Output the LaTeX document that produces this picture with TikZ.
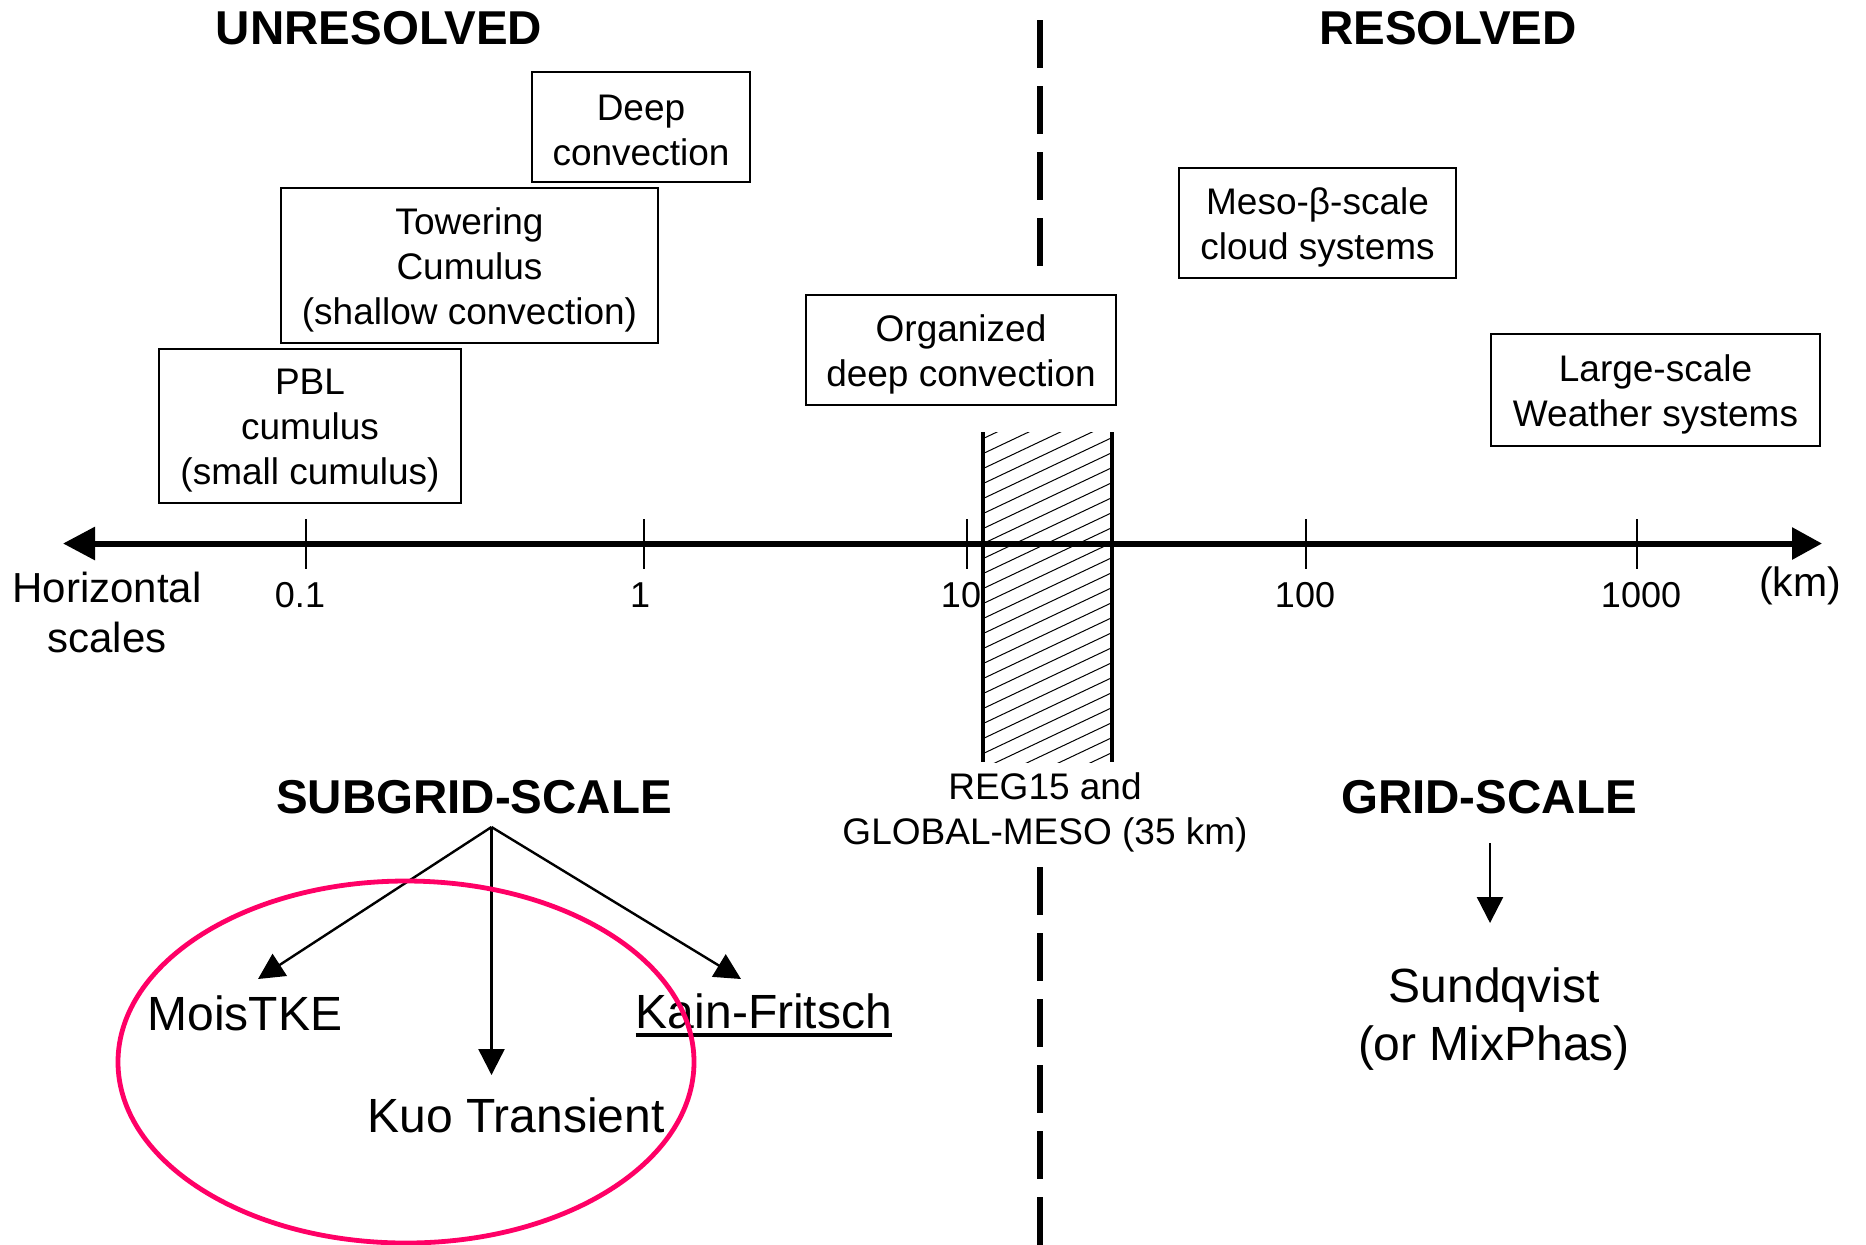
\documentclass[tikz,border=0pt]{standalone}
\usepackage{fontspec}
\setmainfont{Liberation Sans}
\usetikzlibrary{arrows.meta}
\newcommand\myfs[2]{\fontsize{#1}{#2}\selectfont}
\definecolor{ringpink}{RGB}{255,0,102}
\tikzset{
  boxnode/.style={draw, line width=1pt, inner sep=0pt},
  boxtext/.style={inner sep=0pt, align=center, font=\myfs{18.5}{22.5}},
  headtext/.style={inner sep=0pt, font=\bfseries\myfs{23.75}{28}},
  bigtext/.style={inner sep=0pt, align=center, font=\myfs{24}{29}},
  ticktext/.style={inner sep=0pt, font=\myfs{18}{22}},
  tickmark/.style={line width=0.75pt},
  thinarrow/.style={line width=1.2pt, -{Triangle[length=13pt,width=13pt]}},
  divider/.style={line width=3pt, dash pattern=on 24pt off 9pt},
}
\begin{document}
\begin{tikzpicture}[x=0.5pt, y=-0.5pt]
\useasboundingbox (0,0) rectangle (1866,1244);
\fill[white] (0,0) rectangle (1866,1244);

% dashed divider
\coordinate (dvA) at (1040,20);
\coordinate (dvB) at (1040,267);
\coordinate (dvC) at (1040,867);
\coordinate (dvD) at (1040,1250);
\draw[divider] (dvA) -- (dvB);
\draw[divider] (dvC) -- (dvD);

% headers
\node[headtext] (unres) at (379,28.5) {UNRESOLVED};
\node[headtext] (res) at (1448,28.5) {RESOLVED};

% boxes
\node[boxnode, minimum width=109pt, minimum height=55pt] (deep) at (641,126.5) {};
\node[boxtext] (deepT) at (641,130.5) {Deep\\convection};
\node[boxnode, minimum width=188.5pt, minimum height=77.5pt] (tower) at (469.5,265.5) {};
\node[boxtext] (towerT) at (469.5,270) {Towering\\Cumulus\\(shallow convection)};
\node[boxnode, minimum width=151pt, minimum height=77pt] (pbl) at (310,426) {};
\node[boxtext] (pblT) at (310,431) {PBL\\cumulus\\(small cumulus)};
\node[boxnode, minimum width=155pt, minimum height=55pt] (org) at (961,350) {};
\node[boxtext] (orgT) at (961,354) {Organized\\deep convection};
\node[boxnode, minimum width=138.5pt, minimum height=55pt] (meso) at (1317.5,223) {};
\node[boxtext] (mesoT) at (1317.5,227.5) {Meso-β-scale\\cloud systems};
\node[boxnode, minimum width=164.5pt, minimum height=56pt] (large) at (1655.5,390) {};
\node[boxtext] (largeT) at (1655.5,394.5) {Large-scale\\Weather systems};

% hatched band
\begin{scope}
\clip (983,432) rectangle (1112,762);
\foreach \k in {-5,...,26}{
  \draw[line width=0.5pt] (983,453.6+15*\k) -- ++(129,-61);
}
\end{scope}
\coordinate (bLt) at (983,432);
\coordinate (bLb) at (983,762);
\coordinate (bRt) at (1112,432);
\coordinate (bRb) at (1112,762);
\draw[line width=1.75pt] (bLt) -- (bLb);
\draw[line width=1.75pt] (bRt) -- (bRb);

% axis
\coordinate (axL) at (63,543.5);
\coordinate (axR) at (1822,543.5);
\draw[line width=3pt, {Triangle[length=16pt,width=16pt]}-{Triangle[length=15pt,width=15.5pt]}] (axL) -- (axR);
\foreach \tx/\nm in {306/t1, 644/t2, 967/t3, 1306/t4, 1637/t5}{
  \coordinate (\nm a) at (\tx,519);
  \coordinate (\nm b) at (\tx,569);
  \draw[tickmark] (\nm a) -- (\nm b);
}
\node[ticktext] (l01) at (300,595) {0.1};
\node[ticktext] (l1) at (640,595) {1};
\node[ticktext] (l10) at (961,595) {10};
\node[ticktext] (l100) at (1305,595) {100};
\node[ticktext] (l1000) at (1641,595) {1000};
\node[inner sep=0pt, font=\myfs{20.5}{25}] (km) at (1800,586) {(km)};
\node[inner sep=0pt, align=center, font=\myfs{21}{25}] (hs) at (107,612.5) {Horizontal\\scales};

% REG15 label
\node[inner sep=0pt, align=center, font=\myfs{18.5}{22.5}] (reg) at (1045,812) {REG15 and\\GLOBAL-MESO (35 km)};

% lower headers
\node[headtext] (sub) at (474,797) {SUBGRID-SCALE};
\node[headtext] (grid) at (1489,797) {GRID-SCALE};

% scheme names
\node[bigtext] (mois) at (245,1013) {MoisTKE};
\node[bigtext] (kuo) at (516,1115) {Kuo Transient};
\node[bigtext] (kf) at (764,1011) {Kain-Fritsch};
\draw[line width=1.75pt] ([yshift=-3pt]kf.south west) -- ([yshift=-3pt]kf.south east);
\node[bigtext] (sund) at (1494,1019) {Sundqvist\\(or MixPhas)};

% arrows
\coordinate (sgo) at (491.5,827);
\coordinate (tipM) at (258,979);
\coordinate (tipK) at (491.5,1075);
\coordinate (tipF) at (741,979);
\draw[thinarrow] (sgo) -- (tipM);
\draw[thinarrow] (sgo) -- (tipK);
\draw[thinarrow] (sgo) -- (tipF);
\coordinate (gso) at (1490,843);
\coordinate (tipG) at (1490,923);
\draw[thinarrow] (gso) -- (tipG);

% pink ring
\coordinate (ringc) at (406,1062);
\draw[ringpink, line width=2.4pt] (ringc) ellipse [x radius=144pt, y radius=90.5pt];
\end{tikzpicture}
\end{document}
